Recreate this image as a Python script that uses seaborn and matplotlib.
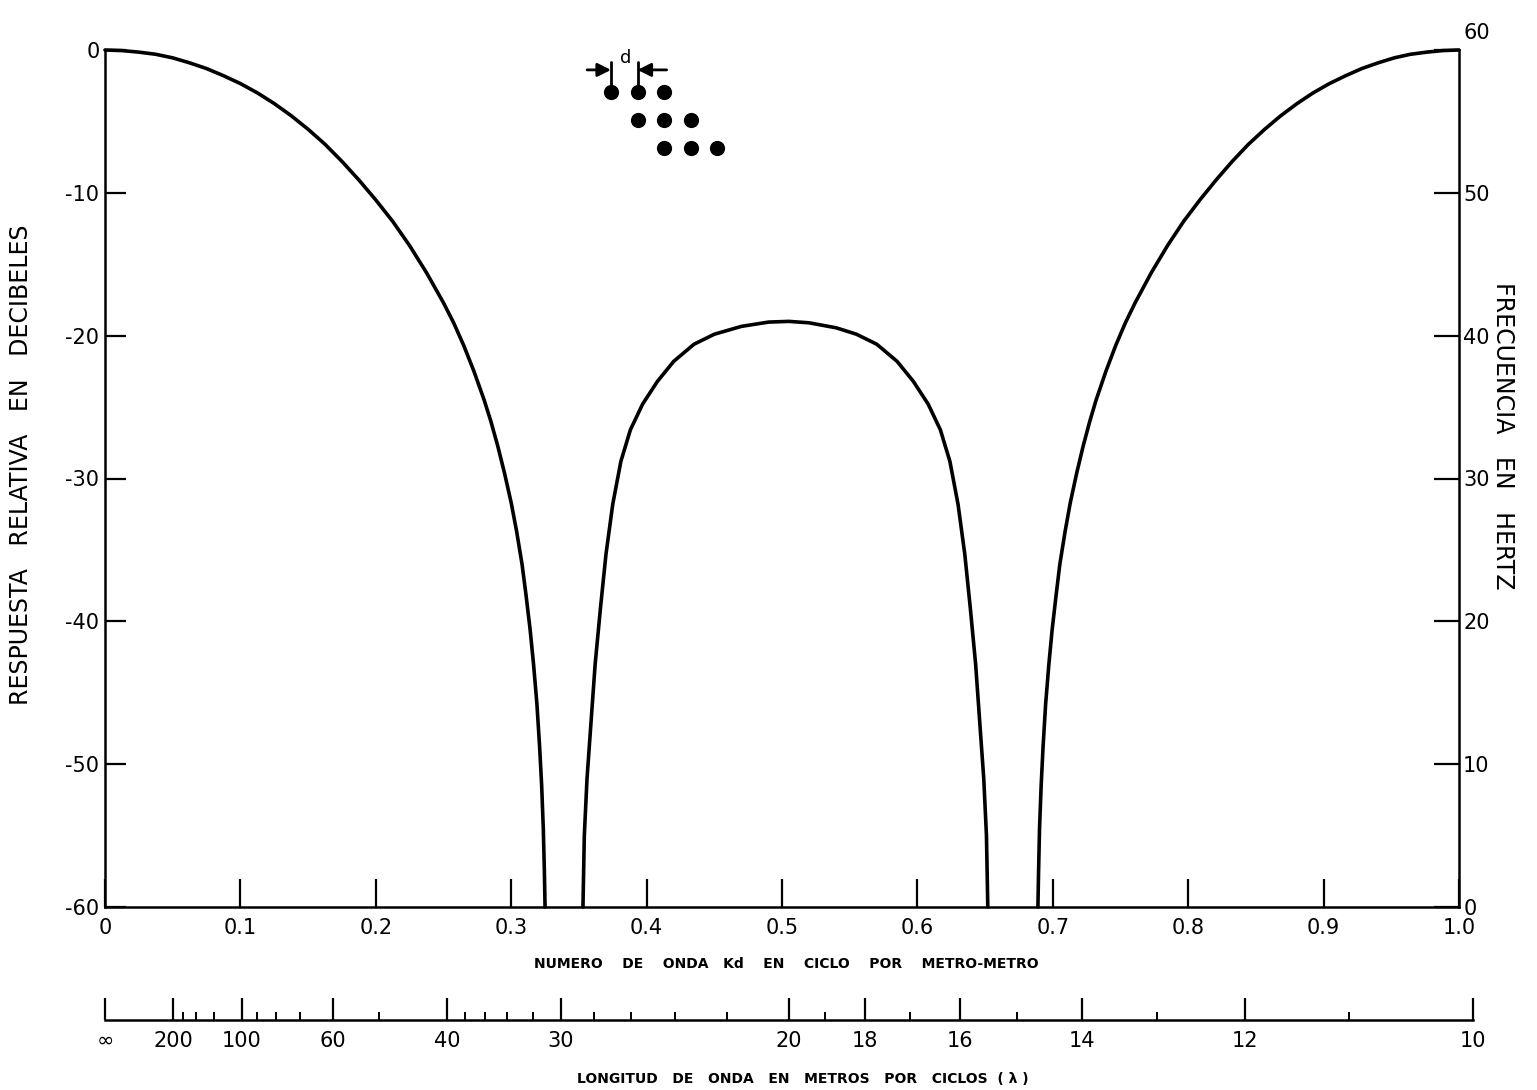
import pandas as pd
import matplotlib.pyplot as plt
import seaborn as sns

# ---- data ----
# main lobe at k = 0
lobe1_k = [0.000, 0.0125, 0.025, 0.0375, 0.050, 0.0625, 0.075, 0.0875, 0.100, 0.1125,
           0.125, 0.1375, 0.150, 0.1625, 0.175, 0.1875, 0.200, 0.2125, 0.225, 0.2375,
           0.250, 0.2575, 0.265, 0.2725, 0.280, 0.285, 0.290, 0.295, 0.300, 0.304,
           0.308, 0.311, 0.314, 0.3165, 0.319, 0.321, 0.3225, 0.3237, 0.3245, 0.325]
lobe1_db = [0.0, -0.04, -0.15, -0.3, -0.55, -0.9, -1.3, -1.8, -2.35, -3.0,
            -3.75, -4.6, -5.55, -6.6, -7.8, -9.1, -10.5, -12.0, -13.7, -15.6,
            -17.7, -19.1, -20.7, -22.5, -24.5, -26.0, -27.7, -29.6, -31.7, -33.7,
            -36.0, -38.2, -40.6, -43.0, -45.8, -48.8, -51.5, -54.5, -57.5, -60.0]
# side lobe around k = 0.5
lobe2_k = [0.353, 0.354, 0.356, 0.359, 0.362, 0.366, 0.370, 0.375, 0.381, 0.388,
           0.397, 0.408, 0.420, 0.435, 0.450, 0.470, 0.490, 0.505, 0.520, 0.540,
           0.555, 0.570, 0.585, 0.597, 0.608, 0.617, 0.624, 0.630, 0.635, 0.639,
           0.643, 0.646, 0.649, 0.651, 0.652]
lobe2_db = [-60.0, -55.0, -51.0, -47.0, -43.0, -39.0, -35.3, -31.8, -28.8, -26.6,
            -24.8, -23.2, -21.8, -20.6, -19.9, -19.35, -19.05, -19.0, -19.1, -19.45,
            -19.9, -20.6, -21.8, -23.2, -24.8, -26.6, -28.8, -31.8, -35.3, -39.0,
            -43.0, -47.0, -51.0, -55.0, -60.0]
# main lobe at k = 1
lobe3_k = [0.6890, 0.6895, 0.6902, 0.6914, 0.6928, 0.6947, 0.6971, 0.6995, 0.7024, 0.7052,
           0.7091, 0.7129, 0.7177, 0.7225, 0.7273, 0.7320, 0.7392, 0.7464, 0.7536, 0.7608,
           0.7727, 0.7847, 0.7966, 0.8086, 0.8206, 0.8325, 0.8445, 0.8565, 0.8684, 0.8804,
           0.8923, 0.9043, 0.9163, 0.9282, 0.9402, 0.9522, 0.9641, 0.9761, 0.9880, 1.0000]
lobe3_db = [-60.0, -57.5, -54.5, -51.5, -48.8, -45.8, -43.0, -40.6, -38.2, -36.0,
            -33.7, -31.7, -29.6, -27.7, -26.0, -24.5, -22.5, -20.7, -19.1, -17.7,
            -15.6, -13.7, -12.0, -10.5, -9.1, -7.8, -6.6, -5.55, -4.6, -3.75,
            -3.0, -2.35, -1.8, -1.3, -0.9, -0.55, -0.3, -0.15, -0.04, 0.0]

k_ticks = [0, 0.1, 0.2, 0.3, 0.4, 0.5, 0.6, 0.7, 0.8, 0.9, 1.0]
k_labels = ['0', '0.1', '0.2', '0.3', '0.4', '0.5', '0.6', '0.7', '0.8', '0.9', '1.0']
db_ticks = [0, -10, -20, -30, -40, -50, -60]
hz_ticks = [0, 10, 20, 30, 40, 50, 60]
hz_labels = ['0', '10', '20', '30', '40', '50', '']

# wavelength scale (lambda = 10 / k)
lam_major = [200, 100, 60, 40, 30, 20, 18, 16, 14, 12, 10]
lam_minor = [175, 150, 125, 90, 80, 70, 50, 38, 36, 34, 32, 28, 26, 24, 22, 19, 17, 15, 13, 11]

# array sketch: element positions in units of d
elem_x = [0, 1, 2, 1, 2, 3, 2, 3, 4]
elem_y = [0, 0, 0, -1, -1, -1, -2, -2, -2]

df = pd.concat([
    pd.DataFrame({'k': lobe1_k, 'db': lobe1_db, 'lobe': 1}),
    pd.DataFrame({'k': lobe2_k, 'db': lobe2_db, 'lobe': 2}),
    pd.DataFrame({'k': lobe3_k, 'db': lobe3_db, 'lobe': 3}),
])

sns.set_style('ticks', {'axes.edgecolor': 'black', 'xtick.color': 'black',
                        'ytick.color': 'black', 'text.color': 'black',
                        'axes.labelcolor': 'black'})
plt.rcParams['font.family'] = ['DejaVu Sans']
plt.rcParams['axes.unicode_minus'] = False

W, H = 1537, 1090
fig = plt.figure(figsize=(W / 100, H / 100), dpi=100)
ax = fig.add_axes([105 / W, 183 / H, 1354 / W, 857 / H])

sns.lineplot(data=df, x='k', y='db', units='lobe', estimator=None, sort=False,
             color='black', lw=2.6, ax=ax, legend=False)
for ln in ax.lines:
    ln.set_clip_on(False)
    ln.set_solid_joinstyle('round')

ax.set_xlim(0, 1)
ax.set_ylim(-60, 0)
ax.set_xticks(k_ticks)
ax.set_xticklabels(k_labels)
ax.set_yticks(db_ticks)
ax.tick_params(axis='x', direction='in', length=20, width=1.6, labelsize=15, pad=8)
ax.tick_params(axis='y', direction='in', length=15, width=1.6, labelsize=15, pad=4)
for side in ['top', 'right']:
    ax.spines[side].set_visible(False)
for side in ['left', 'bottom']:
    ax.spines[side].set_linewidth(1.8)

ax.set_ylabel('RESPUESTA   RELATIVA   EN   DECIBELES', fontsize=17)
ax.yaxis.set_label_coords(-0.053, 0.516)
ax.set_xlabel('NUMERO    DE    ONDA   Kd    EN    CICLO    POR    METRO-METRO',
              fontsize=10, fontweight='bold')
ax.xaxis.set_label_coords(0.503, -0.058)

ax2 = ax.twinx()
ax2.set_ylim(0, 60)
ax2.set_yticks(hz_ticks)
ax2.set_yticklabels(hz_labels)
ax2.tick_params(axis='y', direction='in', length=18, width=1.6, labelsize=15, pad=3)
for side in ['top', 'left', 'bottom']:
    ax2.spines[side].set_visible(False)
ax2.spines['right'].set_linewidth(1.8)
# the top label sits above the end of the axis
ax2.annotate('60', xy=(1, 60), xycoords=('axes fraction', 'data'),
             xytext=(3, 12), textcoords='offset points', fontsize=15,
             ha='left', va='center')
ax2.set_ylabel('FRECUENCIA   EN   HERTZ', fontsize=17, rotation=-90)
ax2.yaxis.set_label_coords(1.041, 0.55)

# lower wavelength axis
ax3 = fig.add_axes([105 / W, 70 / H, 1368 / W, 20 / H])
ax3.set_xlim(0, 1)
ax3.set_yticks([])
for side in ['top', 'left', 'right']:
    ax3.spines[side].set_visible(False)
ax3.spines['bottom'].set_linewidth(1.8)
ax3.set_xticks([0] + [10 / v for v in lam_major])
ax3.set_xticklabels(['\u221e'] + [str(v) for v in lam_major])
ax3.set_xticks([10 / v for v in lam_minor], minor=True)
ax3.tick_params(axis='x', which='major', direction='in', length=16, width=1.6,
                labelsize=15, pad=8)
ax3.tick_params(axis='x', which='minor', direction='in', length=6, width=1.4)
ax3.set_xlabel('LONGITUD   DE   ONDA   EN   METROS   POR   CICLOS  ( \u03bb )',
               fontsize=10, fontweight='bold')
ax3.xaxis.set_label_coords(0.51, -2.6)
ax3.patch.set_alpha(0)

# sketch of the array with spacing d
axi = fig.add_axes([580 / W, 1 - 165 / H, 150 / W, 120 / H])
axi.set_xlim(-1.17, 4.49)
axi.set_ylim(-2.61, 1.68)
axi.axis('off')
sns.scatterplot(x=elem_x, y=elem_y, s=120, color='black', linewidth=0, ax=axi)
axi.plot([0, 0], [0, 1.07], color='black', lw=2)
axi.plot([1, 1], [0, 1.07], color='black', lw=2)
axi.annotate('', xy=(0, 0.79), xytext=(-0.9, 0.79),
             arrowprops=dict(arrowstyle='-|>', color='black', lw=2,
                             mutation_scale=20, shrinkA=0, shrinkB=0))
axi.annotate('', xy=(1, 0.79), xytext=(2.1, 0.79),
             arrowprops=dict(arrowstyle='-|>', color='black', lw=2,
                             mutation_scale=20, shrinkA=0, shrinkB=0))
axi.text(0.55, 1.2, 'd', fontsize=13, ha='center', va='center')

fig.savefig('out.png', dpi=100, facecolor='white')
